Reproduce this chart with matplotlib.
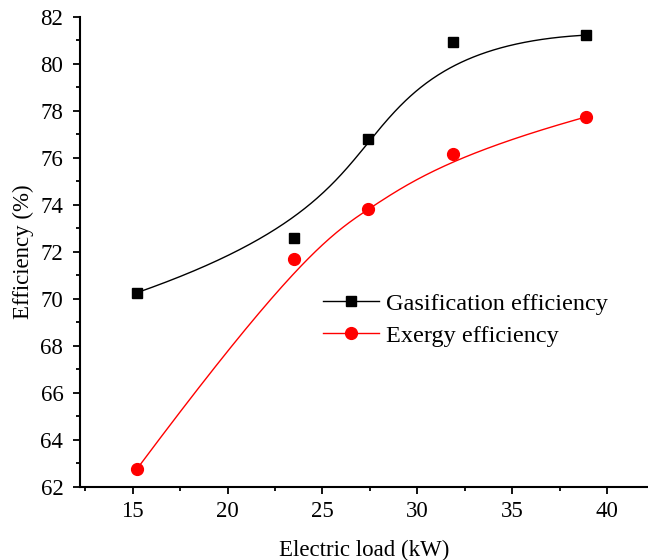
import numpy as np
import matplotlib
matplotlib.use("Agg")
import matplotlib.pyplot as plt
from matplotlib.ticker import MultipleLocator

# data
load = [15.2, 23.5, 27.4, 31.9, 38.9]
gasification = [70.25, 72.6, 76.8, 80.92, 81.22]
exergy = [62.73, 71.7, 73.82, 76.16, 77.74]

xticks = [15, 20, 25, 30, 35, 40]
yticks = [62, 64, 66, 68, 70, 72, 74, 76, 78, 80, 82]


def basis(i, k, t, knots):
	# Cox-de Boor recursion
	if k == 0:
		if knots[i] <= t < knots[i + 1] or (t == knots[-1] and knots[i] < t <= knots[i + 1]):
			return 1.0
		return 0.0
	a = 0.0
	b = 0.0
	if knots[i + k] != knots[i]:
		a = (t - knots[i]) / (knots[i + k] - knots[i]) * basis(i, k - 1, t, knots)
	if knots[i + k + 1] != knots[i + 1]:
		b = (knots[i + k + 1] - t) / (knots[i + k + 1] - knots[i + 1]) * basis(i + 1, k - 1, t, knots)
	return a + b


def bspline(xp, yp, deg=3, n=300):
	# clamped B-spline using the data points as control points (Origin "B-Spline" connect)
	m = len(xp)
	inner = list(np.linspace(0, 1, m - deg + 1)[1:-1])
	knots = [0.0] * (deg + 1) + inner + [1.0] * (deg + 1)
	ts = np.linspace(0, 1, n)
	bx, by = [], []
	for t in ts:
		w = [basis(i, deg, t, knots) for i in range(m)]
		bx.append(np.dot(w, xp))
		by.append(np.dot(w, yp))
	return np.array(bx), np.array(by)


plt.rcParams['font.family'] = ['Liberation Serif', 'DejaVu Serif']

fig = plt.figure(figsize=(6.48, 5.6), dpi=100)
ax = fig.add_axes([0.1235, 0.131, 0.8765, 0.839])

gx, gy = bspline(load, gasification)
ex, ey = bspline(load, exergy)
ax.plot(gx, gy, color='black', lw=1)
ax.plot(ex, ey, color='red', lw=1)
ax.plot(load, gasification, ls='none', marker='s', ms=7, color='black')
ax.plot(load, exergy, ls='none', marker='o', ms=8.5, color='red')

# legend proxies (line + marker)
ax.plot([], [], color='black', lw=1, marker='s', ms=7, label='Gasification efficiency')
ax.plot([], [], color='red', lw=1, marker='o', ms=8.5, label='Exergy efficiency')
ax.legend(loc='upper left', bbox_to_anchor=(0.428, 0.413), frameon=False, fontsize=17.5,
	handlelength=2.3, handletextpad=0.3, labelspacing=0.42, borderaxespad=0, borderpad=0)

ax.set_xlim(12.22, 42.16)
ax.set_ylim(62, 82)
ax.set_xticks(xticks)
ax.set_yticks(yticks)
ax.xaxis.set_minor_locator(MultipleLocator(2.5))
ax.yaxis.set_minor_locator(MultipleLocator(1))
ax.tick_params(which='major', direction='out', length=5, width=1.3, labelsize=16.5)
ax.tick_params(axis='x', which='major', pad=5)
ax.tick_params(axis='y', which='major', pad=7)
ax.tick_params(which='minor', direction='out', length=3, width=1.3)
ax.spines['top'].set_visible(False)
ax.spines['right'].set_visible(False)
for s in ['left', 'bottom']:
	ax.spines[s].set_linewidth(1.5)

ax.set_xlabel('Electric load (kW)', fontsize=16.5, labelpad=13)
ax.set_ylabel('Efficiency (%)', fontsize=16.5, labelpad=5)

fig.savefig('out.png', dpi=100)
